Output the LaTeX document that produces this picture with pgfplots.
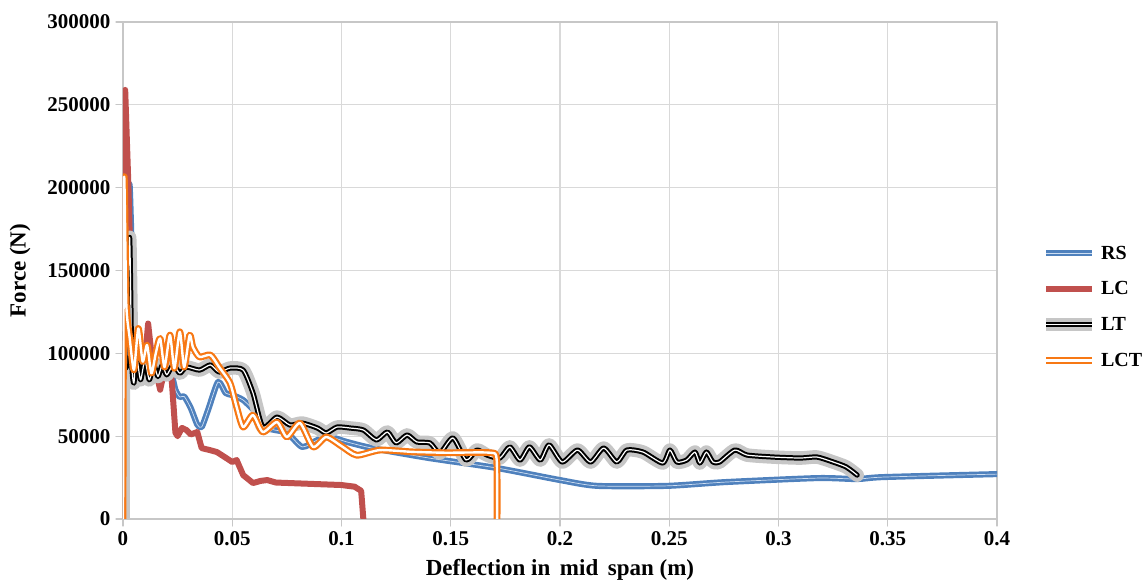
\documentclass[border=0pt]{standalone}
\usepackage{pgfplots}
\pgfplotsset{compat=1.18}
\usepackage{fontspec}
\setmainfont{Liberation Serif}
\definecolor{rsblue}{RGB}{79,129,189}
\definecolor{rslight}{RGB}{205,222,242}
\definecolor{lcred}{RGB}{192,80,77}
\definecolor{lctor}{RGB}{247,120,20}
\definecolor{gridc}{RGB}{217,217,217}
\begin{document}
\begin{tikzpicture}
\useasboundingbox (-123pt,-69pt) rectangle (1023pt,519pt);
\begin{axis}[
  scale only axis,
  width=874pt, height=497pt,
  xmin=0, xmax=0.4, ymin=0, ymax=300000,
  xtick={0,0.05,...,0.4},
  ytick={0,50000,...,300000},
  scaled x ticks=false, scaled y ticks=false,
  xticklabel style={/pgf/number format/fixed,/pgf/number format/precision=2},
  yticklabel style={/pgf/number format/fixed,/pgf/number format/1000 sep={}},
  /pgf/number format/assume math mode=true,
  ticklabel style={font=\bfseries\fontsize{21}{21}\selectfont},
  grid=major,
  grid style={gridc, line width=1.2pt},
  axis line style={gridc!80!gray, line width=1.4pt},
  tick style={gridc!80!gray, line width=1.2pt},
  tick align=outside, major tick length=7pt,
  xtick pos=bottom, ytick pos=left,
  xlabel={Deflection in\ \,mid\ \,span (m)},
  ylabel={Force (N)},
  label style={font=\bfseries\fontsize{23}{23}\selectfont},
  xlabel style={at={(axis description cs:0.5,0)}, anchor=north, yshift=-37pt},
  ylabel style={at={(axis description cs:0,0.5)}, anchor=south, yshift=89pt},
  xticklabel style={yshift=-2pt},
  yticklabel style={xshift=-2pt},
  legend style={at={(1.045,0.427)}, anchor=west, draw=none, fill=none,
    font=\bfseries\fontsize{20}{20}\selectfont, row sep=17pt,
    /tikz/every even column/.append style={column sep=0pt}},
  legend cell align=left,
  legend image code/.code={\draw[#1] (0pt,0pt) -- (46pt,0pt);},
  line join=round, line cap=round,
]
\addplot[rsblue, smooth, tension=0.4, line width=2.7pt, double=rslight, double distance=0.7pt] coordinates {
(0,0)(0.0005,115000)(0.002,160000)(0.003,202000)(0.0045,140000)(0.006,100000)(0.008,95000)(0.01,100000)(0.013,88000)(0.016,95000)(0.019,85000)(0.022,88000)(0.024,78000)(0.026,73600)(0.028,74000)(0.031,67000)(0.034,57000)(0.036,55500)(0.039,66000)(0.0435,82700)(0.047,76000)(0.05,74800)(0.055,71800)(0.061,64000)(0.066,55000)(0.075,52000)(0.082,43500)(0.089,47700)(0.0947,49500)(0.1025,46500)(0.114,42800)(0.14,36800)(0.171,30800)(0.2,23500)(0.217,20000)(0.249,20000)(0.276,22300)(0.318,24700)(0.336,24100)(0.348,25300)(0.4,27100)
};
\addlegendentry{RS}
\addplot[lcred, line width=6pt] coordinates {
(0.0005,0)(0.001,259000)(0.0025,200000)(0.0035,150000)(0.0045,135000)(0.006,100000)(0.008,105000)(0.010,95000)(0.0115,118000)(0.013,100000)(0.015,90000)(0.017,78000)(0.019,90000)(0.0215,92000)(0.0224,82000)(0.024,52000)(0.025,50000)(0.027,55000)(0.029,53700)(0.031,51000)(0.034,52500)(0.036,42800)(0.04,41500)(0.043,40400)(0.047,37000)(0.05,34400)(0.052,35600)(0.055,26500)(0.0595,21700)(0.063,23000)(0.066,23500)(0.07,22000)(0.08,21500)(0.09,21000)(0.1,20500)(0.106,19500)(0.109,17000)(0.11,0)
};
\addlegendentry{LC}
\addplot[black, smooth, tension=0.4, line width=2pt, double=white, double distance=1.2pt,
  preaction={draw=gray!45, line width=6.2pt}] coordinates {
(0,0)(0.0003,110000)(0.0015,92000)(0.003,170000)(0.004,95000)(0.005,82000)(0.006,100000)(0.008,84000)(0.010,96000)(0.012,84000)(0.014,93000)(0.016,86000)(0.018,93000)(0.020,87000)(0.023,93000)(0.026,88000)(0.029,91700)(0.035,89900)(0.04,93000)(0.044,88700)(0.049,91100)(0.055,89900)(0.0595,76000)(0.064,55500)(0.0705,61500)(0.0764,56700)(0.082,57900)(0.089,54900)(0.093,51900)(0.098,55500)(0.104,54900)(0.11,53700)(0.116,47700)(0.121,52500)(0.125,45900)(0.13,50700)(0.1345,46500)(0.1405,45900)(0.145,39800)(0.151,48900)(0.157,35600)(0.162,41600)(0.1666,38600)(0.1725,36800)(0.177,43500)(0.1817,35600)(0.186,43500)(0.191,35600)(0.195,44700)(0.201,34400)(0.208,41600)(0.214,34400)(0.22,42800)(0.226,34400)(0.2306,41600)(0.238,40400)(0.247,33800)(0.2503,41600)(0.2535,34400)(0.258,35600)(0.2618,40400)(0.264,33800)(0.267,40400)(0.27,34400)(0.273,34400)(0.28,41600)(0.2856,38600)(0.2975,37400)(0.31,36800)(0.3176,37400)(0.325,34400)(0.331,31400)(0.336,26500)
};
\addlegendentry{LT}
\addplot[lctor, smooth, tension=0.4, line width=2.2pt, double=white, double distance=2.4pt] coordinates {
(0,0)(0.0005,205000)(0.0015,130000)(0.003,110000)(0.005,90000)(0.007,115000)(0.009,95000)(0.011,105000)(0.013,88000)(0.015,100000)(0.017,109000)(0.019,91700)(0.0215,111000)(0.0235,91000)(0.026,113000)(0.028,91700)(0.0305,111000)(0.032,103800)(0.035,97800)(0.04,99000)(0.044,91700)(0.049,82000)(0.052,67600)(0.055,55500)(0.0595,62700)(0.064,52500)(0.0705,58500)(0.075,49500)(0.081,57900)(0.087,43500)(0.093,49500)(0.1,44000)(0.107,38500)(0.1176,41600)(0.1327,40500)(0.148,40000)(0.168,40000)(0.171,36000)(0.1712,0)
};
\addlegendentry{LCT}
\end{axis}
\end{tikzpicture}
\end{document}
